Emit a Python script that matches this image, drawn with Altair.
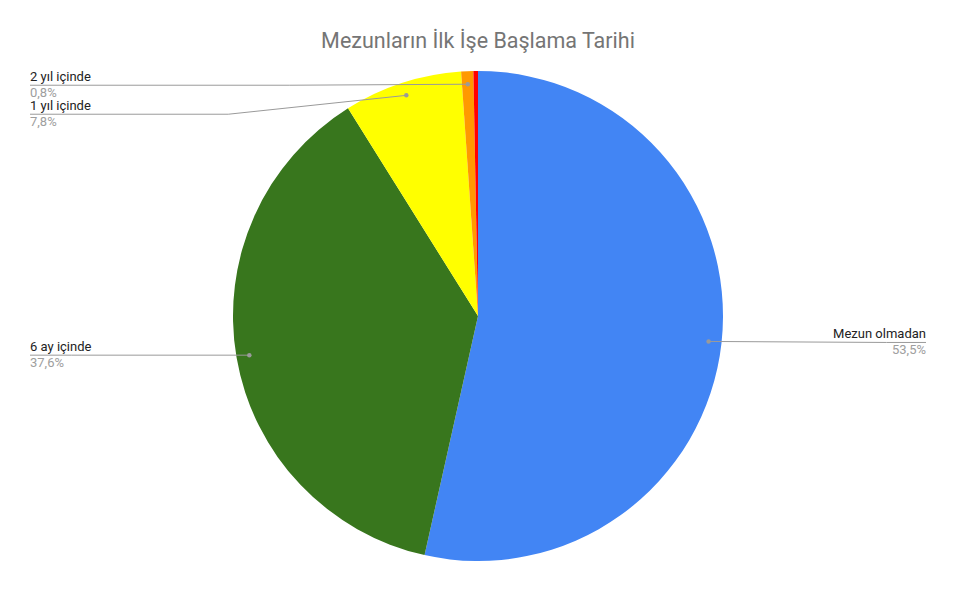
import altair as alt
import pandas as pd

# ---- data ----
categories = ["Mezun olmadan", "6 ay içinde", "1 yıl içinde", "2 yıl içinde", "2 yıldan sonra"]
shares = [53.5, 37.6, 7.8, 0.8, 0.3]
pct_labels = ["53,5%", "37,6%", "7,8%", "0,8%", "0,3%"]
colors = ["#4285F4", "#38761D", "#FFFF00", "#FF9900", "#FF0000"]
title_text = "Mezunların İlk İşe Başlama Tarihi"

# ---- layout constants ----
W, H = 940, 576
CX, CY, R = 470, 308, 245
RD = 232          # radius of leader-line dots
LABEL_MARGIN = 22
BEND = 178
GAP = 29
FONT = "Roboto"

df = pd.DataFrame({
    "cat": categories,
    "value": shares,
    "pct": pct_labels,
    "idx": list(range(len(categories))),
})

base = alt.Chart(df)

pie = base.mark_arc(outerRadius=R).encode(
    theta=alt.Theta("value:Q", stack=True),
    order=alt.Order("idx:O"),
    color=alt.Color("cat:N", scale=alt.Scale(domain=categories, range=colors), legend=None),
    x=alt.value(CX),
    y=alt.value(CY),
)

lab = (
    base.transform_joinaggregate(total="sum(value)")
    .transform_window(cum="sum(value)", sort=[alt.SortField("idx")], frame=[None, 0])
    .transform_calculate(mid="(datum.cum - datum.value / 2) / datum.total * 2 * PI")
    .transform_calculate(
        px=f"{CX} + {RD} * sin(datum.mid)",
        py=f"{CY} - {RD} * cos(datum.mid)",
        side="sin(datum.mid) >= 0 ? 'right' : 'left'",
    )
    .transform_filter("datum.value / datum.total >= 0.005")
    .transform_window(prev="lag(py)", groupby=["side"], sort=[alt.SortField("py")])
    .transform_calculate(
        ly="datum.prev == null ? datum.py + 1 : max(datum.py, datum.prev + 1 + %d)" % GAP,
        lx=f"datum.side == 'right' ? {W - LABEL_MARGIN} : {LABEL_MARGIN}",
    )
    .transform_calculate(
        bx=f"datum.side == 'right' ? min(datum.px + {BEND}, datum.lx) : max(datum.px - {BEND}, datum.lx)",
    )
)

line_color = "#9a9a9a"

rule1 = lab.mark_rule(color=line_color, strokeWidth=1).encode(
    x=alt.X("lx:Q", scale=None),
    x2="bx:Q",
    y=alt.Y("ly:Q", scale=None),
)
rule2 = lab.mark_rule(color=line_color, strokeWidth=1).encode(
    x=alt.X("bx:Q", scale=None),
    x2="px:Q",
    y=alt.Y("ly:Q", scale=None),
    y2="py:Q",
)
dots = lab.mark_circle(color=line_color, size=20, opacity=1).encode(
    x=alt.X("px:Q", scale=None),
    y=alt.Y("py:Q", scale=None),
)

def texts(side, align):
    sub = lab.transform_filter(f"datum.side == '{side}'")
    name = sub.mark_text(align=align, baseline="alphabetic", dy=-4, font=FONT,
                         fontSize=13, color="#222222").encode(
        x=alt.X("lx:Q", scale=None), y=alt.Y("ly:Q", scale=None), text="cat:N")
    pct = sub.mark_text(align=align, baseline="alphabetic", dy=12, font=FONT,
                        fontSize=13, color="#9e9e9e").encode(
        x=alt.X("lx:Q", scale=None), y=alt.Y("ly:Q", scale=None), text="pct:N")
    return name + pct

title = alt.Chart(pd.DataFrame({"t": [title_text]})).mark_text(
    align="center", baseline="alphabetic", font=FONT, fontSize=21.5, color="#757575"
).encode(x=alt.value(W / 2), y=alt.value(40), text="t:N")

chart = alt.layer(
    pie, rule1, rule2, dots, texts("left", "left"), texts("right", "right"), title
).properties(
    width=W, height=H, padding=0, autosize="none"
).configure_view(stroke=None)

chart.save("out.html", embed_options={"renderer": "svg", "actions": False})
